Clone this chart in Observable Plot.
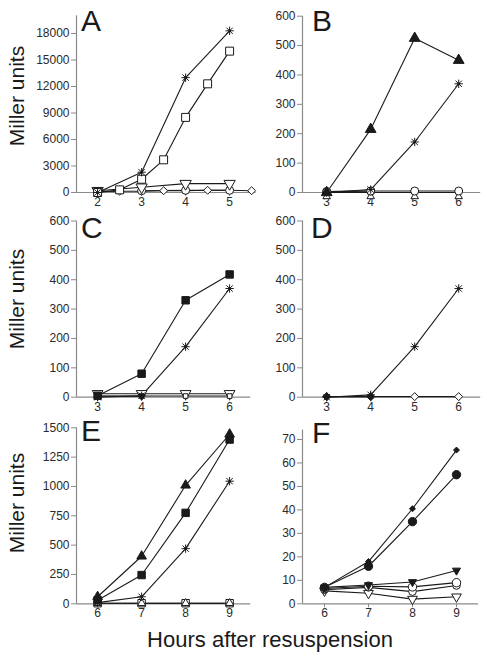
<!DOCTYPE html>
<html><head><meta charset="utf-8">
<script src="https://cdn.jsdelivr.net/npm/d3@7"></script>
<script src="https://cdn.jsdelivr.net/npm/@observablehq/plot@0.6"></script>
<style>
body{margin:0;background:#fff;}
#wrap{position:relative;width:487px;height:660px;overflow:hidden;font-family:"Liberation Sans",Arial,sans-serif;background:#fff;}
#wrap svg{position:absolute;background:transparent !important;}
.lab{position:absolute;color:#1a1a1a;white-space:nowrap;line-height:1;}
.ylab{position:absolute;color:#1a1a1a;white-space:nowrap;font-size:21px;transform:translate(-50%,-50%) rotate(-90deg);}
</style></head><body><div id="wrap"></div>
<script>
// ---------- data ----------
const panelLetters = ["A","B","C","D","E","F"];
const yLabel = "Miller units";
const xLabel = "Hours after resuspension";

// Panel A
const hoursA = [2, 3, 4, 5];
const hoursAHalf = [2, 2.5, 3, 3.5, 4, 4.5, 5, 5.5];
const hoursASquare = [2, 2.5, 3, 3.5, 4, 4.5, 5];
const hoursACircle = [3, 4, 5];
const A_asterisk = [0, 2300, 13000, 18300];
const A_openSquare = [0, 300, 1500, 3700, 8500, 12300, 16000];
const A_openTriDown = [200, 600, 1000, 1000];
const A_openDiamond = [100, 150, 150, 200, 200, 250, 250, 200];
const A_openCircle = [200, 250, 250];
const yTicksA = [0, 3000, 6000, 9000, 12000, 15000, 18000];
const xTicksA = [2, 3, 4, 5];

// Panel B
const hoursB = [3, 4, 5, 6];
const hoursBFilledCircle = [3, 4];
const B_filledTri = [0, 215, 525, 450];
const B_asterisk = [0, 10, 172, 370];
const B_openCircle = [3, 5, 5, 5];
const B_openTri = [0, 0, 0, 0];
const B_filledCircle = [3, 5];

// Panel C
const hoursC = [3, 4, 5, 6];
const hoursCFilledTriDown = [3, 4];
const C_filledSquare = [5, 80, 330, 418];
const C_asterisk = [0, 5, 172, 370];
const C_openTriDown = [12, 12, 12, 12];
const C_openSquare = [4, 4, 4, 4];
const C_filledTriDown = [3, 3];

// Panel D
const hoursD = [3, 4, 5, 6];
const hoursDFilledDiamond = [3, 4];
const D_asterisk = [0, 8, 172, 370];
const D_openDiamond = [2, 2, 2, 2];
const D_filledDiamond = [2, 2];
const yTicks600 = [0, 100, 200, 300, 400, 500, 600];
const xTicks36 = [3, 4, 5, 6];

// Panel E
const hoursE = [6, 7, 8, 9];
const E_filledTri = [60, 405, 1010, 1445];
const E_filledSquare = [30, 245, 775, 1400];
const E_asterisk = [10, 60, 470, 1045];
const E_openSquare = [5, 5, 5, 5];
const E_openTri = [5, 5, 5, 5];
const yTicksE = [0, 250, 500, 750, 1000, 1250, 1500];

// Panel F
const hoursF = [6, 7, 8, 9];
const F_filledDiamond = [7, 18, 40.5, 65.5];
const F_filledCircle = [7, 16, 35, 55];
const F_filledTriDown = [7, 8, 9.3, 14.2];
const F_openCircle = [6.5, 7.5, 7.2, 9];
const F_openCircle2 = [6, 7, 5.2, 7.8];
const F_openTriDown = [5.5, 4.5, 2, 3];
const yTicksF = [0, 10, 20, 30, 40, 50, 60, 70];
const xTicks69 = [6, 7, 8, 9];

// ---------- drawing ----------
const INK = "#1a1a1a";
const AXIS = "#8a8a8a";
const PX_PER_HOUR = 44;

function S(x, y, kind, opts = {}) { return {x, y, kind, ...opts}; }

function dotMarks(s) {
  const data = s.x.map((h, i) => ({h, v: s.y[i]}));
  const base = {x: "h", y: "v", dy: s.dy || 0};
  const k = s.kind;
  if (k === "asterisk") {
    return [
      Plot.dot(data, {...base, symbol: "plus", r: 2.8, stroke: INK, strokeWidth: 1}),
      Plot.dot(data, {...base, symbol: "times", r: 3.0, stroke: INK, strokeWidth: 1}),
      Plot.dot(data, {...base, symbol: "circle", r: 1.3, fill: INK})
    ];
  }
  const filled = k.startsWith("filled");
  const shape = k.replace("filled", "").replace("open", "");
  let symbol = "circle", rotate = 0, r = 4;
  if (shape === "Square") { symbol = "square"; r = 4.5; }
  if (shape === "Tri") { symbol = "triangle"; r = 3.7; }
  if (shape === "TriDown") { symbol = "triangle"; r = 3.8; rotate = 180; }
  if (shape === "Diamond") { symbol = "diamond2"; r = 3.6; }
  if (shape === "Circle") { symbol = "circle"; r = 4; }
  if (s.r) r = s.r;
  return [Plot.dot(data, {...base, symbol, r, rotate,
    fill: filled ? INK : "white", stroke: INK, strokeWidth: 1})];
}

function panel(cfg) {
  const span = cfg.xdom[1] - cfg.xdom[0];
  const right = cfg.ax + PX_PER_HOUR * span;
  const marks = [
    Plot.ruleY([cfg.ydom[0]], {stroke: AXIS, strokeWidth: 1.2}),
    Plot.ruleX([cfg.xdom[0]], {stroke: AXIS, strokeWidth: 1.2}),
    Plot.axisX({ticks: cfg.xticks, tickSize: 4, tickPadding: 1, label: null, stroke: AXIS, tickFormat: d3.format("d")}),
    Plot.axisY({ticks: cfg.yticks, tickSize: 5, tickPadding: 2, label: null, stroke: AXIS, tickFormat: d3.format("d")})
  ];
  for (const s of cfg.series) {
    if (s.line !== false) {
      const data = s.x.map((h, i) => ({h, v: s.y[i]}));
      marks.push(Plot.line(data, {x: "h", y: "v", stroke: INK, strokeWidth: 1.1}));
    }
  }
  for (const s of cfg.series) marks.push(...dotMarks(s));
  const svg = Plot.plot({
    width: cfg.W, height: cfg.H,
    marginLeft: cfg.ax - cfg.L,
    marginRight: cfg.L + cfg.W - right,
    marginTop: cfg.ytop - cfg.T,
    marginBottom: cfg.T + cfg.H - cfg.y0,
    x: {domain: cfg.xdom},
    y: {domain: cfg.ydom},
    style: {fontFamily: '"Liberation Sans", Arial, sans-serif', fontSize: "12px", color: "#2a2a2a", background: "transparent", overflow: "visible"},
    marks
  });
  svg.style.left = cfg.L + "px";
  svg.style.top = cfg.T + "px";
  svg.style.maxWidth = "none";
  document.getElementById("wrap").appendChild(svg);
}

const panels = [
  {L: 0, T: 0, W: 262, H: 215, ax: 76, y0: 192, ytop: 15.3, xdom: [1.52, 5.6], ydom: [0, 20000], xticks: xTicksA, yticks: yTicksA,
   series: [
     S(hoursAHalf, A_openDiamond, "openDiamond"),
     S(hoursACircle, A_openCircle, "openCircle"),
     S(hoursA, A_openTriDown, "openTriDown", {r: 4.2}),
     S(hoursASquare, A_openSquare, "openSquare"),
     S(hoursA, A_asterisk, "asterisk")
   ]},
  {L: 245, T: 0, W: 242, H: 215, ax: 302, y0: 192, ytop: 15.7, xdom: [2.45, 6.5], ydom: [0, 600], xticks: xTicks36, yticks: yTicks600,
   series: [
     S(hoursB, B_openTri, "openTri", {dy: 4, r: 2.8}),
     S(hoursBFilledCircle, B_filledCircle, "filledCircle"),
     S(hoursB, B_openCircle, "openCircle"),
     S(hoursB, B_asterisk, "asterisk"),
     S(hoursB, B_filledTri, "filledTri", {r: 4})
   ]},
  {L: 0, T: 215, W: 262, H: 205, ax: 76, y0: 396.7, ytop: 220.5, xdom: [2.52, 6.48], ydom: [0, 600], xticks: xTicks36, yticks: yTicks600,
   series: [
     S(hoursC, C_openTriDown, "openTriDown", {r: 4}),
     S(hoursC, C_openSquare, "openSquare", {r: 2.6}),
     S(hoursCFilledTriDown, C_filledTriDown, "filledTriDown", {r: 2.6}),
     S(hoursC, C_asterisk, "asterisk"),
     S(hoursC, C_filledSquare, "filledSquare", {r: 4.2})
   ]},
  {L: 245, T: 215, W: 242, H: 205, ax: 302, y0: 396.7, ytop: 220.5, xdom: [2.45, 6.5], ydom: [0, 600], xticks: xTicks36, yticks: yTicks600,
   series: [
     S(hoursD, D_openDiamond, "openDiamond"),
     S(hoursDFilledDiamond, D_filledDiamond, "filledDiamond"),
     S(hoursD, D_asterisk, "asterisk")
   ]},
  {L: 0, T: 420, W: 262, H: 206.3, ax: 76, y0: 603.3, ytop: 427.3, xdom: [5.52, 9.48], ydom: [0, 1500], xticks: xTicks69, yticks: yTicksE,
   series: [
     S(hoursE, E_openSquare, "openSquare", {r: 4.2}),
     S(hoursE, E_openTri, "openTri", {r: 3}),
     S(hoursE, E_asterisk, "asterisk"),
     S(hoursE, E_filledSquare, "filledSquare", {r: 4.2}),
     S(hoursE, E_filledTri, "filledTri", {r: 3.6})
   ]},
  {L: 245, T: 420, W: 242, H: 206.3, ax: 302, y0: 603.3, ytop: 429.6, xdom: [5.5, 9.5], ydom: [0, 74], xticks: xTicks69, yticks: yTicksF,
   series: [
     S(hoursF, F_openTriDown, "openTriDown", {r: 3.6}),
     S(hoursF, F_openCircle2, "openCircle", {r: 3.8}),
     S(hoursF, F_openCircle, "openCircle", {r: 4.2}),
     S(hoursF, F_filledTriDown, "filledTriDown", {r: 3}),
     S(hoursF, F_filledCircle, "filledCircle", {r: 4.2}),
     S(hoursF, F_filledDiamond, "filledDiamond", {r: 2.7})
   ]}
];
panels.forEach(panel);

// ---------- text ----------
const wrap = document.getElementById("wrap");
const letterPos = [[81, 34], [312, 34], [81, 241], [311, 241], [81, 444], [312, 446]];
panelLetters.forEach((t, i) => {
  const d = document.createElement("div");
  d.className = "lab";
  d.textContent = t;
  d.style.fontSize = "30px";
  d.style.left = letterPos[i][0] + "px";
  d.style.top = (letterPos[i][1] - 28) + "px";
  wrap.appendChild(d);
});
[96, 299, 503].forEach(cy => {
  const d = document.createElement("div");
  d.className = "ylab";
  d.textContent = yLabel;
  d.style.left = "17px";
  d.style.top = cy + "px";
  wrap.appendChild(d);
});
const xl = document.createElement("div");
xl.className = "lab";
xl.textContent = xLabel;
xl.style.fontSize = "22px";
xl.style.left = "270px";
xl.style.top = "640px";
xl.style.transform = "translate(-50%,-50%)";
wrap.appendChild(xl);
</script></body></html>
